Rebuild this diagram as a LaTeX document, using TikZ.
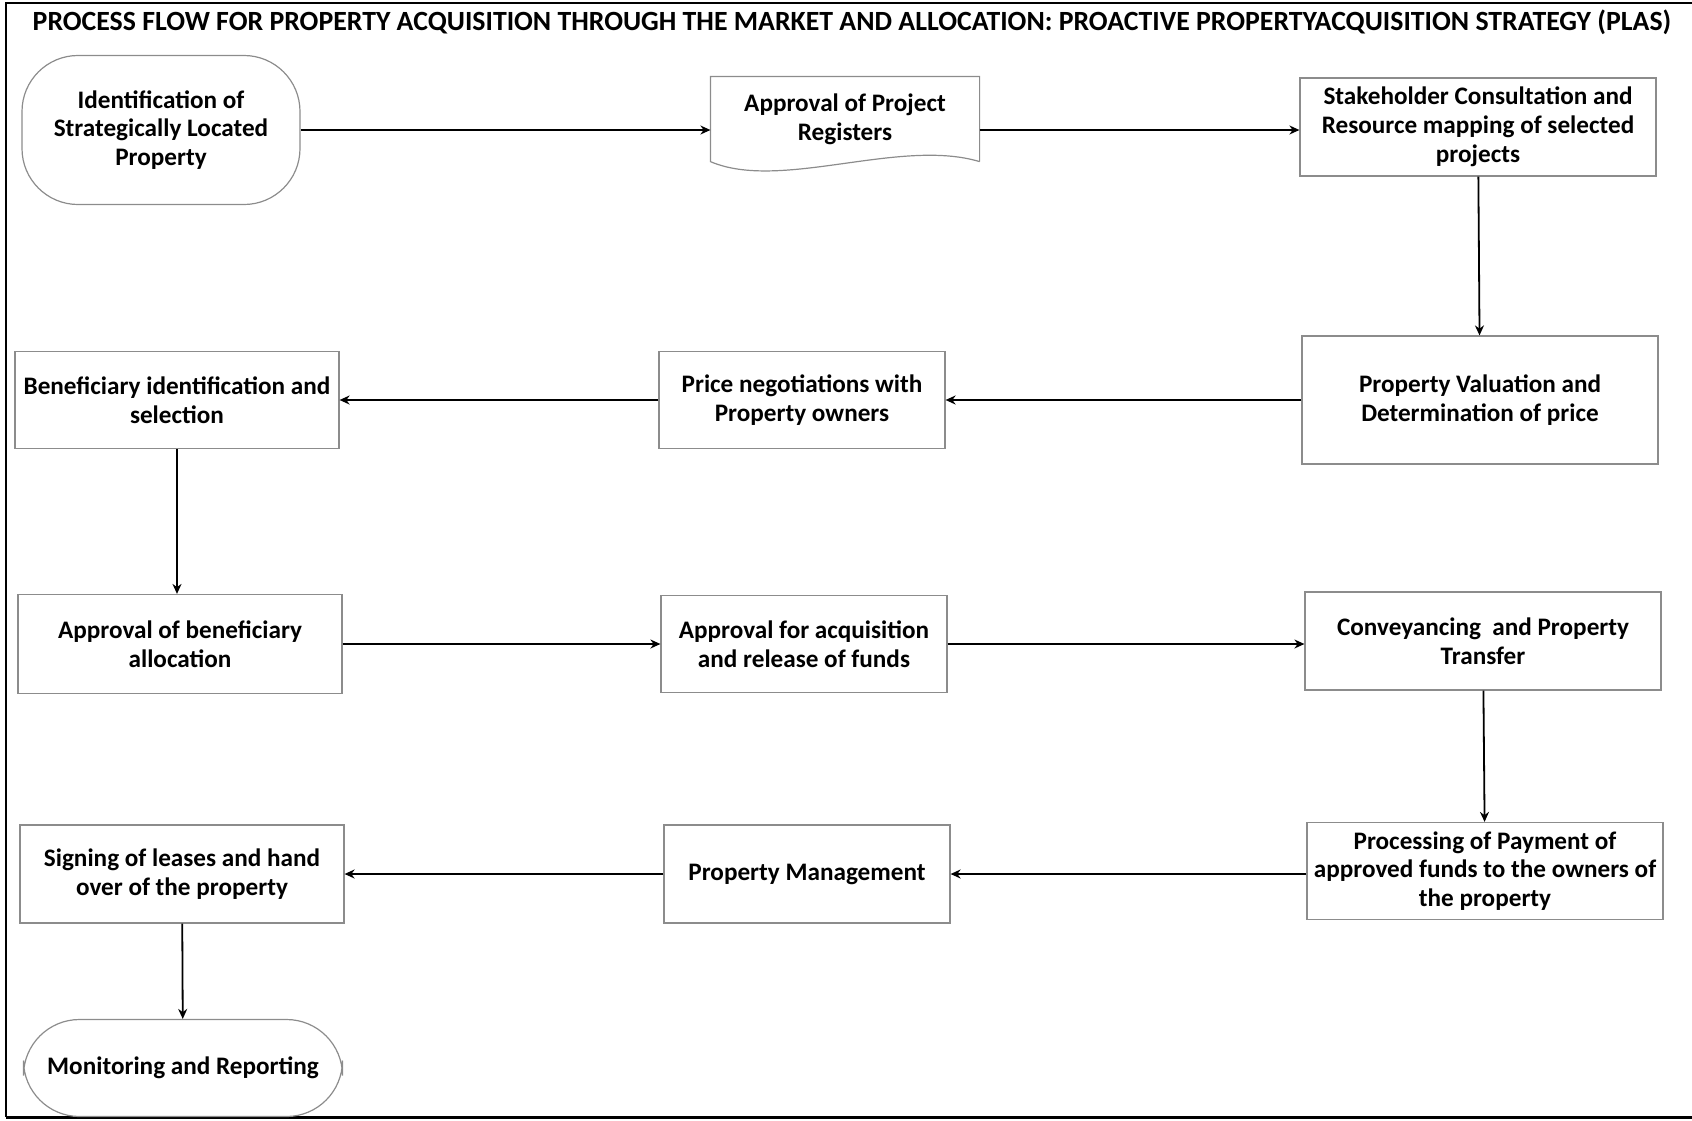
\documentclass[tikz,border=0pt]{standalone}
\usepackage{fontspec}
\setmainfont{Carlito}
\usepackage{xcolor}
\usetikzlibrary{arrows.meta}
\definecolor{boxline}{gray}{0.55}

\begin{document}
\begin{tikzpicture}[x=0.5pt, y=-0.5pt,
  box/.style={draw=boxline, line width=0.6pt, minimum width=162pt, minimum height=48.5pt, font=\fontsize{12.6}{14.4}\selectfont\bfseries, align=center, inner sep=1pt},
  wide/.style={box, minimum width=178pt},
  mid/.style={box, minimum width=143pt},
  terminal/.style={box, rounded corners=28pt},
  arrow/.style={-{Stealth[length=5pt,width=4.5pt]}, line width=0.9pt}
]
  \useasboundingbox (0,0) rectangle (1692,1120);
  % frame
  \draw[line width=0.8pt] (1692,3) -- (6,3) -- (6,1117);
  \draw[line width=1.5pt] (6,1117) -- (1692,1117);

  \node[font=\fontsize{13.9}{16}\selectfont\bfseries] (title) at (852,22)
    {PROCESS FLOW FOR PROPERTY ACQUISITION THROUGH THE MARKET AND ALLOCATION: PROACTIVE PROPERTYACQUISITION STRATEGY (PLAS)};

  % row 1
  \node[terminal, minimum width=139pt, minimum height=74.5pt] (ident) at (161,130) {Identification of\\Strategically Located\\Property};
  \node[box, draw=none, minimum width=134pt, minimum height=42pt] (reg) at (845,119) {Approval of Project\\Registers};
  \draw[boxline, line width=0.6pt] (reg.south east) -- (reg.north east) -- (reg.north west) -- (reg.south west)
    .. controls +(70,30) and +(-80,-24) .. (reg.south east);
  \node[wide, minimum height=49pt] (stake) at (1478,127) {Stakeholder Consultation and\\Resource mapping of selected\\projects};

  % row 2
  \node[wide, minimum height=64pt] (valu) at (1480,400) {Property Valuation and\\Determination of price};
  \node[mid] (price) at (802,400) {Price negotiations with\\Property owners};
  \node[box] (benef) at (177,400) {Beneficiary identification and\\selection};

  % row 3
  \node[box, minimum height=49.5pt] (apben) at (180,644) {Approval of beneficiary\\allocation};
  \node[mid] (apacq) at (804,644) {Approval for acquisition\\and release of funds};
  \node[wide, minimum height=49pt] (conv) at (1483,641) {Conveyancing\ \ and Property\\Transfer};

  % row 4
  \node[wide, minimum height=48.5pt] (pay) at (1485,871) {Processing of Payment of\\approved funds to the owners of\\the property};
  \node[mid, minimum height=49pt] (mgmt) at (807,874) {Property Management};
  \node[box, minimum height=49pt] (sign) at (182,874) {Signing of leases and hand\\over of the property};

  \node[terminal, minimum width=159.5pt] (mon) at (183,1068) {Monitoring and Reporting};

  \draw[arrow] (ident.east) -- (ident.east -| reg.west);
  \draw[arrow] (reg.east |- ident.east) -- (ident.east -| stake.west);
  \draw[arrow] (stake) -- (valu);
  \draw[arrow] (valu) -- (price);
  \draw[arrow] (price) -- (benef);
  \draw[arrow] (benef.south) -- (benef.south |- apben.north);
  \draw[arrow] (apben) -- (apacq);
  \draw[arrow] (apacq.east) -- (apacq.east -| conv.west);
  \draw[arrow] (conv) -- (pay);
  \draw[arrow] (pay.west |- mgmt.east) -- (mgmt.east);
  \draw[arrow] (mgmt) -- (sign);
  \draw[arrow] (sign) -- (mon);
\end{tikzpicture}
\end{document}
